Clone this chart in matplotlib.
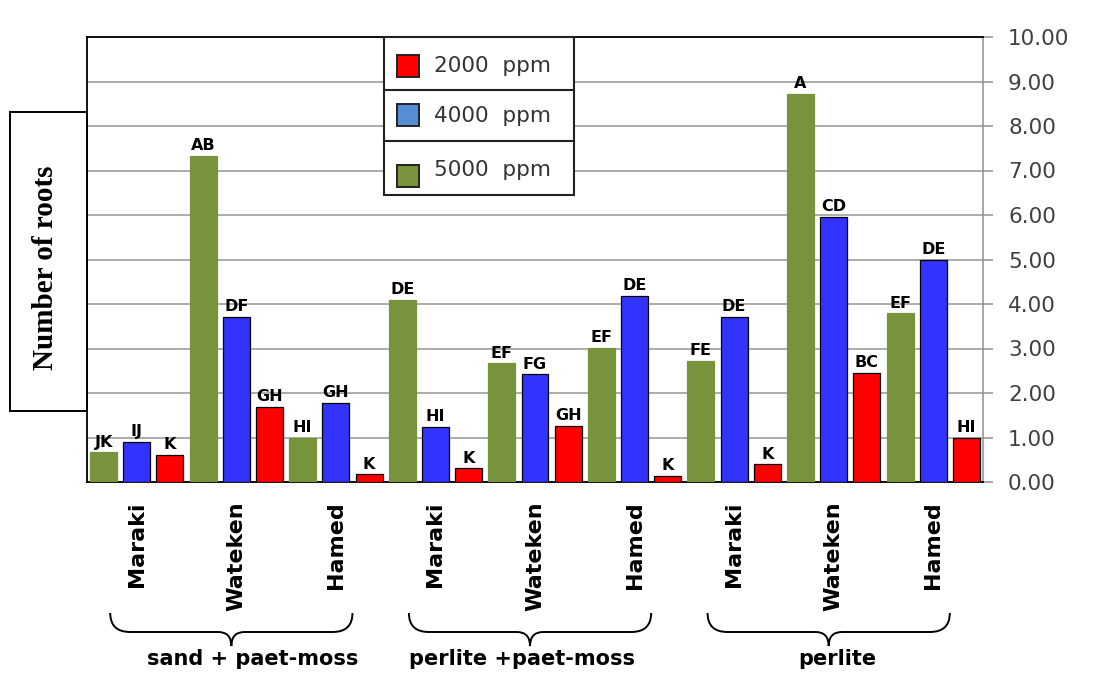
import numpy as np
import matplotlib
matplotlib.use('Agg')
import matplotlib.pyplot as plt
from matplotlib.patches import Rectangle, PathPatch
from matplotlib.path import Path
import matplotlib.transforms as mtrans

# ── data ──────────────────────────────────────────────────────────────────────
cultivars = ["Maraki", "Wateken", "Hamed"]
substrates = ["sand + paet-moss", "perlite +paet-moss", "perlite"]
doses = ["2000 ppm", "4000 ppm", "5000 ppm"]

# bar order inside each cultivar: 5000 (green), 4000 (blue), 2000 (red)
roots = [0.67, 0.91, 0.61,   7.33, 3.71, 1.69,   1.00, 1.78, 0.17,
         4.09, 1.24, 0.31,   2.67, 2.42, 1.26,   3.02, 4.18, 0.14,
         2.72, 3.71, 0.40,   8.73, 5.96, 2.46,   3.79, 4.99, 1.00]
letters = ["JK", "IJ", "K",  "AB", "DF", "GH",  "HI", "GH", "K",
           "DE", "HI", "K",  "EF", "FG", "GH",  "EF", "DE", "K",
           "FE", "DE", "K",  "A", "CD", "BC",   "EF", "DE", "HI"]
yticks = np.arange(0, 10.01, 1.0)

GREEN, BLUE, RED = '#77933C', '#3333FF', '#FF0000'
bar_cols = [GREEN, BLUE, RED] * 9
leg_cols = [RED, '#558ED5', GREEN]

W, H = 1100, 691
fig = plt.figure(figsize=(11, 6.91), dpi=100, facecolor='white')
ax = fig.add_axes([87 / W, 1 - 482 / H, (983 - 87) / W, (482 - 37) / H])

x = np.arange(len(roots))
for i, (v, c) in enumerate(zip(roots, bar_cols)):
    ec = c if c == GREEN else 'black'
    ax.bar(x[i], v, width=0.813, color=c, edgecolor=ec, linewidth=0.9, zorder=3)
    ax.text(x[i], v + 0.06, letters[i], ha='center', va='bottom', fontsize=11.5,
            fontweight='bold', color='black', zorder=4)

ax.set_xlim(-0.5, len(roots) - 0.5)
ax.set_ylim(0, 10)
ax.yaxis.tick_right()
ax.set_yticks(yticks)
ax.set_yticklabels([f"{t:.2f}" for t in yticks], fontsize=15.5, color='#404040')
ax.tick_params(axis='y', length=7, width=1.1, color='#909090', pad=11)
ax.yaxis.grid(True, color='#A6A6A6', lw=1.3, zorder=0)
ax.set_axisbelow(True)

ax.set_xticks(x[1::3])
ax.set_xticklabels(cultivars * 3, rotation=90, fontsize=16, fontweight='bold',
                   va='top', ha='center')
ax.tick_params(axis='x', length=0, pad=14)

for s in ['top', 'left', 'bottom']:
    ax.spines[s].set_color('black')
    ax.spines[s].set_linewidth(1.3)
ax.spines['right'].set_color('#909090')
ax.spines['right'].set_linewidth(1.1)

# ── braces + substrate labels ────────────────────────────────────────────────
def fy(py):
    return 1 - py / H

tr = mtrans.blended_transform_factory(ax.transData, fig.transFigure)
text_x = [4.5, 12.6, 22.1]
for g, name in enumerate(substrates):
    xl, xr = g * 9 + 0.2, g * 9 + 7.5
    xm = (xl + xr) / 2
    yt, ym, yb = fy(613), fy(632), fy(646)
    r, r2 = 0.6, 0.4
    verts = [(xl, yt), (xl, ym), (xl + r, ym),
             (xm - r2, ym), (xm, ym), (xm, yb),
             (xm, ym), (xm + r2, ym),
             (xr - r, ym), (xr, ym), (xr, yt)]
    codes = [Path.MOVETO, Path.CURVE3, Path.CURVE3,
             Path.LINETO, Path.CURVE3, Path.CURVE3,
             Path.CURVE3, Path.CURVE3,
             Path.LINETO, Path.CURVE3, Path.CURVE3]
    fig.patches.append(PathPatch(Path(verts, codes), transform=tr, fill=False,
                                 edgecolor='black', lw=1.4))
    fig.text(text_x[g], fy(659), name, transform=tr, ha='center', va='center',
             fontsize=15, fontweight='bold')

# ── overlay (legend + y label box), pixel coordinates ────────────────────────
ov = fig.add_axes([0, 0, 1, 1], facecolor='none')
ov.set_xlim(0, W)
ov.set_ylim(H, 0)
ov.axis('off')

# legend box with three separated rows
ov.add_patch(Rectangle((384, 37), 190, 158, facecolor='white', edgecolor='#222222', lw=1.5))
for yy in (90, 141):
    ov.plot([384, 574], [yy, yy], color='#222222', lw=1.5)
mark_y = [66.5, 115, 176]
text_y = [66, 116, 170]
for lab, col, my, ty in zip(doses, leg_cols, mark_y, text_y):
    ov.add_patch(Rectangle((397, my - 11.5), 22, 22, facecolor=col, edgecolor='#222222', lw=1.4))
    ov.text(434, ty, lab.replace(' ', '  '), ha='left', va='center', fontsize=15.5,
            color='#333333')

# y label box
ov.add_patch(Rectangle((10, 112), 77, 299, facecolor='white', edgecolor='black', lw=1.4))
ov.text(46, 268, 'Number of roots', rotation=90, ha='center', va='center',
        fontsize=21, fontweight='bold', family='Liberation Serif')

fig.savefig('out.png', dpi=100, facecolor='white')
